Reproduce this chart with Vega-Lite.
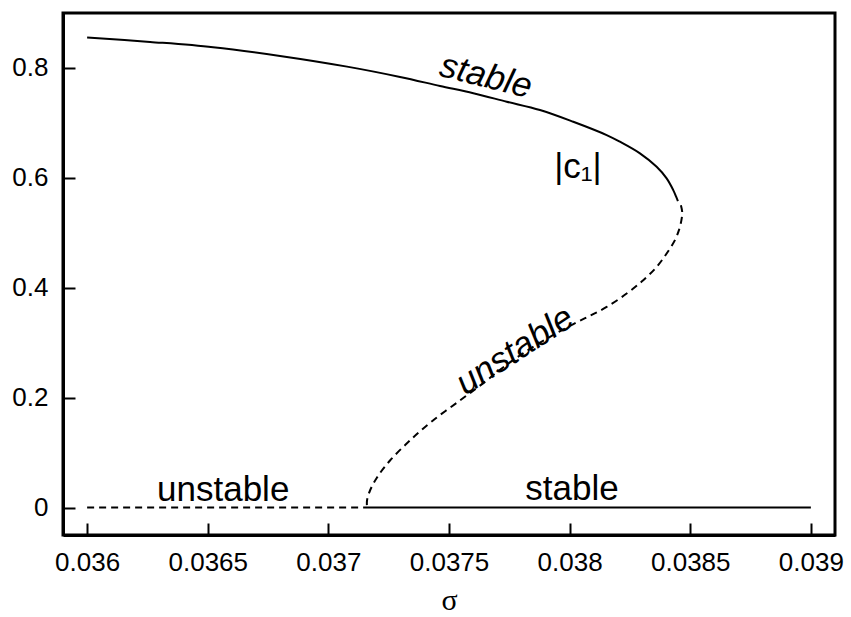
{
  "$schema": "https://vega.github.io/schema/vega-lite/v6.json",
  "width": 772,
  "height": 522,
  "autosize": "none",
  "padding": {"left": 63, "top": 13, "right": 16, "bottom": 82},
  "background": "white",
  "config": {
    "view": {"stroke": "black", "strokeWidth": 3},
    "font": "Liberation Sans",
    "axis": {
      "grid": false,
      "domainColor": "black",
      "domainWidth": 3,
      "tickColor": "black",
      "tickWidth": 2,
      "tickSize": -12,
      "labelColor": "black",
      "labelFont": "Liberation Sans",
      "labelFontSize": 26,
      "titleColor": "black"
    }
  },
  "datasets": {
    "curves": [
      {"seg": "upper", "i": 0, "sigma": 0.036, "c": 0.8556},
      {"seg": "upper", "i": 1, "sigma": 0.0362611, "c": 0.8474},
      {"seg": "upper", "i": 2, "sigma": 0.0365221, "c": 0.8377},
      {"seg": "upper", "i": 3, "sigma": 0.0367997, "c": 0.8219},
      {"seg": "upper", "i": 4, "sigma": 0.0370774, "c": 0.8024},
      {"seg": "upper", "i": 5, "sigma": 0.037297, "c": 0.7836},
      {"seg": "upper", "i": 6, "sigma": 0.0374627, "c": 0.7672},
      {"seg": "upper", "i": 7, "sigma": 0.0376007, "c": 0.7539},
      {"seg": "upper", "i": 8, "sigma": 0.0377391, "c": 0.7386},
      {"seg": "upper", "i": 9, "sigma": 0.0378771, "c": 0.7235},
      {"seg": "upper", "i": 10, "sigma": 0.0380151, "c": 0.7021},
      {"seg": "upper", "i": 11, "sigma": 0.0381535, "c": 0.6779},
      {"seg": "upper", "i": 12, "sigma": 0.0382086, "c": 0.6657},
      {"seg": "upper", "i": 13, "sigma": 0.0382915, "c": 0.6446},
      {"seg": "upper", "i": 14, "sigma": 0.0383607, "c": 0.6201},
      {"seg": "upper", "i": 15, "sigma": 0.0384021, "c": 0.599},
      {"seg": "upper", "i": 16, "sigma": 0.0384295, "c": 0.5777},
      {"seg": "upper", "i": 17, "sigma": 0.0384406, "c": 0.5667},
      {"seg": "upper", "i": 18, "sigma": 0.0384489, "c": 0.5576},
      {"seg": "middle", "i": 0, "sigma": 0.0384613, "c": 0.5503},
      {"seg": "middle", "i": 1, "sigma": 0.0384667, "c": 0.5376},
      {"seg": "middle", "i": 2, "sigma": 0.0384634, "c": 0.523},
      {"seg": "middle", "i": 3, "sigma": 0.0384531, "c": 0.5048},
      {"seg": "middle", "i": 4, "sigma": 0.0384365, "c": 0.4866},
      {"seg": "middle", "i": 5, "sigma": 0.0384021, "c": 0.4623},
      {"seg": "middle", "i": 6, "sigma": 0.0383607, "c": 0.4379},
      {"seg": "middle", "i": 7, "sigma": 0.0383051, "c": 0.4137},
      {"seg": "middle", "i": 8, "sigma": 0.0382363, "c": 0.3894},
      {"seg": "middle", "i": 9, "sigma": 0.0381535, "c": 0.365},
      {"seg": "middle", "i": 10, "sigma": 0.0380843, "c": 0.349},
      {"seg": "middle", "i": 11, "sigma": 0.0380138, "c": 0.3335},
      {"seg": "middle", "i": 12, "sigma": 0.0379185, "c": 0.3107},
      {"seg": "middle", "i": 13, "sigma": 0.0378356, "c": 0.2888},
      {"seg": "middle", "i": 14, "sigma": 0.0377818, "c": 0.2733},
      {"seg": "middle", "i": 15, "sigma": 0.0377113, "c": 0.2506},
      {"seg": "middle", "i": 16, "sigma": 0.0376409, "c": 0.226},
      {"seg": "middle", "i": 17, "sigma": 0.0375456, "c": 0.195},
      {"seg": "middle", "i": 18, "sigma": 0.0374337, "c": 0.1585},
      {"seg": "middle", "i": 19, "sigma": 0.0373384, "c": 0.1221},
      {"seg": "middle", "i": 20, "sigma": 0.0372555, "c": 0.0856},
      {"seg": "middle", "i": 21, "sigma": 0.0372017, "c": 0.0547},
      {"seg": "middle", "i": 22, "sigma": 0.0371727, "c": 0.031},
      {"seg": "middle", "i": 23, "sigma": 0.0371602, "c": 0.0128},
      {"seg": "middle", "i": 24, "sigma": 0.0371602, "c": 0},
      {"seg": "zero_unstable", "i": 0, "sigma": 0.036, "c": 0},
      {"seg": "zero_unstable", "i": 1, "sigma": 0.0371602, "c": 0},
      {"seg": "zero_stable", "i": 0, "sigma": 0.0371602, "c": 0},
      {"seg": "zero_stable", "i": 1, "sigma": 0.039, "c": 0}
    ],
    "labels": [
      {"kind": "flat", "sigma": 0.036564, "c": 0.011, "text": "unstable"},
      {"kind": "flat", "sigma": 0.03801, "c": 0.013, "text": "stable"},
      {"kind": "flat", "sigma": 0.0380345, "c": 0.599, "text": "|c₁|"},
      {"kind": "top", "sigma": 0.037653, "c": 0.785, "text": "stable"},
      {"kind": "mid", "sigma": 0.037773, "c": 0.286, "text": "unstable"}
    ]
  },
  "encoding": {
    "x": {
      "field": "sigma",
      "type": "quantitative",
      "scale": {"domain": [0.0359, 0.0391], "nice": false, "zero": false},
      "axis": {
        "values": [0.036, 0.0365, 0.037, 0.0375, 0.038, 0.0385, 0.039],
        "format": "~g",
        "labelPadding": 26,
        "title": "σ",
        "titleFont": "Liberation Serif",
        "titleFontSize": 30,
        "titleFontWeight": "normal",
        "titlePadding": 10
      }
    },
    "y": {
      "field": "c",
      "type": "quantitative",
      "scale": {"domain": [-0.05, 0.9], "nice": false, "zero": false},
      "axis": {
        "values": [0, 0.2, 0.4, 0.6, 0.8],
        "format": "~g",
        "labelPadding": 27,
        "title": null
      }
    }
  },
  "layer": [
    {
      "data": {"name": "curves"},
      "transform": [{"filter": "datum.seg === 'upper' || datum.seg === 'zero_stable'"}],
      "mark": {"type": "line", "color": "black", "strokeWidth": 2, "interpolate": "catmull-rom"},
      "encoding": {
        "detail": {"field": "seg"},
        "order": {"field": "i", "type": "quantitative"}
      }
    },
    {
      "data": {"name": "curves"},
      "transform": [{"filter": "datum.seg === 'middle' || datum.seg === 'zero_unstable'"}],
      "mark": {"type": "line", "color": "black", "strokeWidth": 2, "strokeDash": [7, 5], "interpolate": "catmull-rom"},
      "encoding": {
        "detail": {"field": "seg"},
        "order": {"field": "i", "type": "quantitative"}
      }
    },
    {
      "data": {"name": "labels"},
      "transform": [{"filter": "datum.kind === 'flat'"}],
      "mark": {"type": "text", "font": "Liberation Sans", "fontSize": 35, "color": "black", "align": "center", "baseline": "alphabetic"},
      "encoding": {"text": {"field": "text"}}
    },
    {
      "data": {"name": "labels"},
      "transform": [{"filter": "datum.kind === 'top'"}],
      "mark": {"type": "text", "font": "Liberation Sans", "fontSize": 35, "fontStyle": "italic", "color": "black", "align": "center", "baseline": "middle", "angle": 14},
      "encoding": {"text": {"field": "text"}}
    },
    {
      "data": {"name": "labels"},
      "transform": [{"filter": "datum.kind === 'mid'"}],
      "mark": {"type": "text", "font": "Liberation Sans", "fontSize": 35, "fontStyle": "italic", "color": "black", "align": "center", "baseline": "middle", "angle": -33},
      "encoding": {"text": {"field": "text"}}
    }
  ]
}
